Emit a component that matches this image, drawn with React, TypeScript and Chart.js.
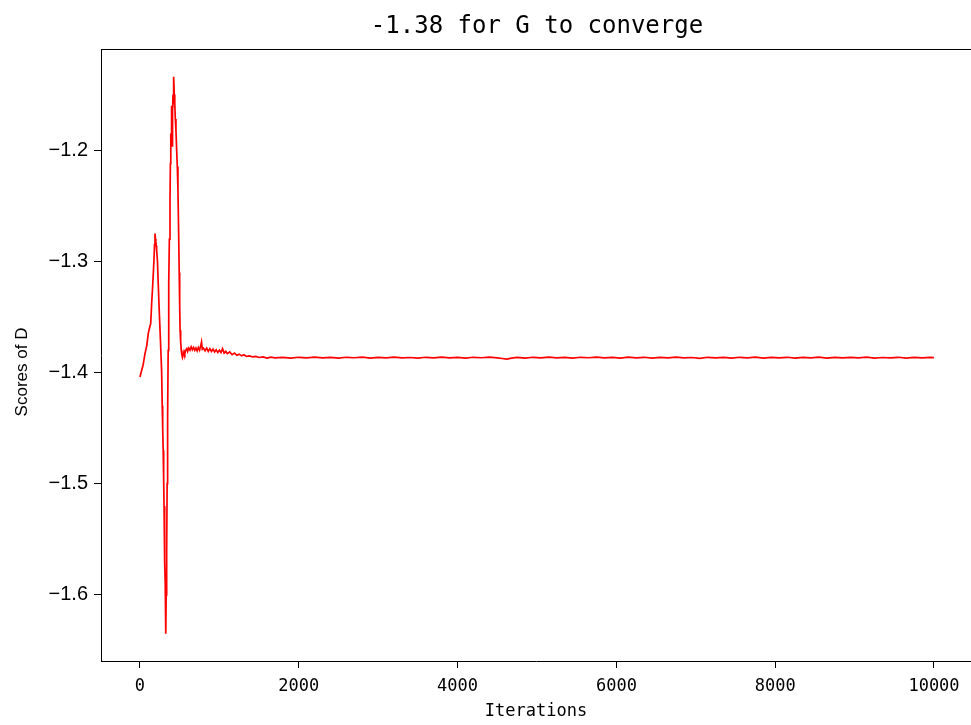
import React, { useEffect, useRef } from "react";
import { Chart, registerables } from "chart.js";

Chart.register(...registerables);

const chartTitle = "-1.38 for G to converge";
const xAxisTitle = "Iterations";
const yAxisTitle = "Scores of D";

const xTickValues = [0, 2000, 4000, 6000, 8000, 10000];
const yTickValues = [-1.6, -1.5, -1.4, -1.3, -1.2];
const yTickLabels = ["\u22121.6", "\u22121.5", "\u22121.4", "\u22121.3", "\u22121.2"];

// Iteration numbers of the sampled points
const iterations = [
  0, 21, 40, 63, 85, 104, 120, 135, 147, 160, 176, 183, 189,
  195, 200, 205, 210, 220, 240, 260, 273, 280, 286, 292, 298, 303, 308, 313, 318, 322, 325, 327,
  330, 336, 342, 348, 355, 362, 370, 378, 383,
  388, 392, 396, 400, 404, 408, 412, 416, 420, 424, 428, 432, 436, 440, 445, 453,
  462, 470, 478, 486, 494, 500, 505, 512, 520, 527,
  535, 545, 555, 565, 575, 590, 600, 615, 630, 645, 660, 675, 690, 705, 720, 735, 750, 765, 775, 785,
  800, 820, 840, 860, 880, 900, 920, 940, 960, 980, 1000, 1020, 1040, 1060, 1080, 1100, 1130, 1160,
  1190, 1220, 1250, 1280, 1310, 1340, 1380, 1420, 1460, 1500, 1550, 1600,
  1650, 1700, 1800, 1900, 2000, 2100, 2200, 2300, 2400, 2500, 2600, 2700, 2800, 2900,
  3000, 3100, 3200, 3300, 3400, 3500, 3600, 3700, 3800, 3900, 4000, 4100, 4200, 4300, 4400, 4500,
  4560, 4620, 4680, 4750, 4850, 4950, 5050, 5150, 5250, 5350, 5450, 5550, 5650, 5750, 5850, 5950,
  6050, 6150, 6250, 6350, 6450, 6550, 6650, 6750, 6850, 6950, 7050, 7150, 7250, 7350, 7450, 7550,
  7650, 7750, 7850, 7950, 8050, 8150, 8250, 8350, 8450, 8550, 8650, 8750, 8850, 8950, 9050, 9150,
  9250, 9350, 9450, 9550, 9650, 9750, 9850, 9950, 9999,
];

// Scores of D at those iterations
const scores = [
  -1.404, -1.398, -1.393, -1.383, -1.376, -1.365, -1.360, -1.356, -1.338, -1.322, -1.299, -1.285, -1.275,
  -1.280, -1.282, -1.286, -1.290, -1.300, -1.340, -1.375, -1.400, -1.430, -1.450, -1.470, -1.495, -1.520, -1.545, -1.570, -1.590, -1.605, -1.620, -1.635,
  -1.600, -1.560, -1.500, -1.440, -1.380, -1.320, -1.280, -1.245, -1.212,
  -1.185, -1.196, -1.170, -1.160, -1.185, -1.197, -1.165, -1.150, -1.158, -1.140, -1.134, -1.150, -1.162, -1.158, -1.172, -1.182,
  -1.200, -1.215, -1.235, -1.270, -1.310, -1.340, -1.362, -1.372, -1.380, -1.384,
  -1.3865, -1.3840, -1.3810, -1.3830, -1.3800, -1.3785, -1.3810, -1.3780, -1.3800, -1.3770, -1.3795, -1.3775, -1.3800, -1.3780, -1.3805, -1.3775, -1.3800, -1.3760, -1.3725, -1.3790,
  -1.3780, -1.3805, -1.3780, -1.3810, -1.3785, -1.3810, -1.3790, -1.3815, -1.3795, -1.3820, -1.3800, -1.3820, -1.3785, -1.3825, -1.3810, -1.3830, -1.3815, -1.3840,
  -1.3825, -1.3845, -1.3835, -1.3850, -1.3840, -1.3855, -1.3850, -1.3860, -1.3855, -1.3865, -1.3860, -1.3870,
  -1.3862, -1.3868, -1.3864, -1.3870, -1.3863, -1.3868, -1.3861, -1.3869, -1.3864, -1.3871, -1.3863, -1.3867, -1.3862, -1.3870,
  -1.3864, -1.3869, -1.3861, -1.3868, -1.3865, -1.3871, -1.3863, -1.3868, -1.3862, -1.3869, -1.3864, -1.3870, -1.3863, -1.3867, -1.3862, -1.3869,
  -1.3874, -1.3880, -1.3870, -1.3864, -1.3870, -1.3863, -1.3868, -1.3862, -1.3869, -1.3864, -1.3870, -1.3863, -1.3867, -1.3862, -1.3869, -1.3864,
  -1.3870, -1.3862, -1.3868, -1.3863, -1.3871, -1.3864, -1.3869, -1.3862, -1.3868, -1.3865, -1.3872, -1.3863, -1.3869, -1.3864, -1.3871, -1.3863,
  -1.3868, -1.3862, -1.3870, -1.3864, -1.3869, -1.3863, -1.3871, -1.3864, -1.3868, -1.3862, -1.3870, -1.3864, -1.3869, -1.3863, -1.3868, -1.3862,
  -1.3870, -1.3865, -1.3869, -1.3863, -1.3871, -1.3864, -1.3868, -1.3863, -1.3866,
];

const frameAndTitle = {
  id: "frameAndTitle",
  afterDraw(chart: any) {
    const { ctx, chartArea } = chart;
    ctx.save();
    ctx.strokeStyle = "#000";
    ctx.lineWidth = 1;
    ctx.beginPath();
    ctx.moveTo(chartArea.left, chartArea.top + 0.5);
    ctx.lineTo(chartArea.right, chartArea.top + 0.5);
    ctx.stroke();
    ctx.fillStyle = "#000";
    ctx.font = '24px "DejaVu Sans Mono"';
    ctx.textAlign = "center";
    ctx.textBaseline = "middle";
    ctx.fillText(chartTitle, (chartArea.left + chartArea.right) / 2 + 1, chartArea.top - 22);
    // y axis title
    ctx.font = '17px "Liberation Sans"';
    ctx.translate(chartArea.left - 79, (chartArea.top + chartArea.bottom) / 2 + 17);
    ctx.rotate(-Math.PI / 2);
    ctx.fillText(yAxisTitle, 0, 0);
    ctx.restore();
  },
};

export default function App() {
  const canvasRef = useRef<HTMLCanvasElement | null>(null);

  useEffect(() => {
    if (!canvasRef.current) return;
    const points = iterations.map((x, i) => ({ x, y: scores[i] }));
    const chart = new Chart(canvasRef.current, {
      type: "line",
      data: {
        datasets: [
          {
            data: points,
            borderColor: "#ff0000",
            borderWidth: 1.7,
            pointRadius: 0,
            fill: false,
            tension: 0,
          },
        ],
      },
      options: {
        animation: false,
        responsive: false,
        maintainAspectRatio: false,
        parsing: false as any,
        layout: { padding: { left: 8, top: 49, right: 0, bottom: 0 } },
        plugins: {
          legend: { display: false },
          tooltip: { enabled: false },
          title: { display: false },
        },
        scales: {
          x: {
            type: "linear",
            min: -491,
            max: 10466,
            afterBuildTicks: (s: any) => {
              s.ticks = xTickValues.map((v) => ({ value: v }));
            },
            afterFit: (s: any) => {
              s.height = 64;
            },
            grid: { drawOnChartArea: false, drawTicks: true, tickLength: 7, color: "#000", lineWidth: 1 },
            border: { display: true, color: "#000", width: 1 },
            ticks: {
              color: "#000",
              font: { family: "DejaVu Sans Mono", size: 17 },
              padding: 8,
              maxRotation: 0,
              autoSkip: false,
              callback: (v: any) => String(v),
            },
            title: {
              display: true,
              text: xAxisTitle,
              color: "#000",
              font: { family: "DejaVu Sans Mono", size: 17 },
              padding: { top: 0, bottom: 3 },
            },
          },
          y: {
            type: "linear",
            min: -1.6595,
            max: -1.109,
            afterBuildTicks: (s: any) => {
              s.ticks = yTickValues.map((v) => ({ value: v }));
            },
            afterFit: (s: any) => {
              s.width = 93;
            },
            grid: { drawOnChartArea: false, drawTicks: true, tickLength: 7, color: "#000", lineWidth: 1 },
            border: { display: true, color: "#000", width: 1 },
            ticks: {
              color: "#000",
              font: { family: "Liberation Sans", size: 20 },
              padding: 6,
              autoSkip: false,
              callback: (v: any) => {
                const idx = yTickValues.findIndex((t) => Math.abs(t - Number(v)) < 1e-9);
                return idx >= 0 ? yTickLabels[idx] : "";
              },
            },
            title: { display: false },
          },
        },
      },
      plugins: [frameAndTitle],
    });
    return () => chart.destroy();
  }, []);

  return (
    <div style={{ position: "fixed", left: 0, top: 0, width: 971, height: 725, background: "#fff" }}>
      <canvas ref={canvasRef} width={971} height={725} style={{ display: "block", width: 971, height: 725 }} />
    </div>
  );
}
